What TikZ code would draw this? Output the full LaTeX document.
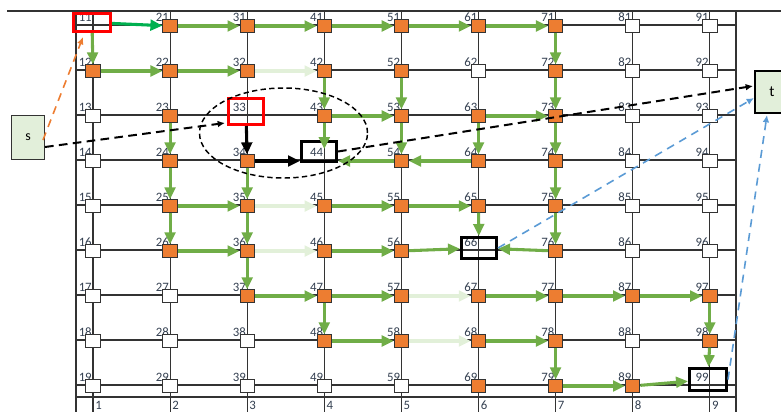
\documentclass[tikz,border=0pt]{standalone}
\usepackage{fontspec}
\setmainfont{Carlito}
\usetikzlibrary{arrows.meta,calc,shapes.geometric}
\definecolor{gorange}{HTML}{ED7D31}
\definecolor{ggreen}{HTML}{70AD47}
\definecolor{gbright}{HTML}{00B050}
\definecolor{gfaded}{HTML}{E2F0D9}
\definecolor{gblue}{HTML}{5B9BD5}
\definecolor{gfill}{HTML}{E2EFDA}
\definecolor{gline}{HTML}{333333}
\definecolor{glabel}{HTML}{333F50}
\begin{document}
\begin{tikzpicture}[x=0.75pt,y=-0.75pt,
  gridline/.style={draw=gline,line width=0.8pt},
  numlabel/.style={font=\fontsize{9.6}{11}\selectfont,text=glabel,inner sep=0pt},
  cell/.style={rectangle,draw=gline,line width=0.75pt,minimum width=10.8pt,minimum height=9.2pt,inner sep=0pt},
  orcell/.style={cell,fill=gorange},
  whcell/.style={cell,fill=white},
  redbox/.style={rectangle,draw=red,line width=2.25pt,inner sep=0pt},
  blkbox/.style={rectangle,draw=black,line width=2.25pt,inner sep=0pt},
  garrow/.style={draw=ggreen,line width=2.3pt,-{Triangle[length=9pt,width=8pt]}},
  barrow/.style={garrow,draw=gbright},
  farrow/.style={garrow,draw=gfaded},
  karrow/.style={draw=black,line width=2.3pt,-{Triangle[length=9pt,width=8pt]}},
  kdash/.style={draw=black,line width=1.5pt,dash pattern=on 6.5pt off 4pt,-{Latex[length=5.5pt,width=5pt]}},
  bdash/.style={draw=gblue,line width=1.2pt,dash pattern=on 6pt off 4.5pt,-{Latex[length=5.5pt,width=5pt]}},
  odash/.style={draw=gorange,line width=1.2pt,dash pattern=on 6pt off 4.5pt,-{Latex[length=5.5pt,width=5pt]}},
  endbox/.style={rectangle,fill=gfill,inner sep=0pt}
]
\useasboundingbox (0,0) rectangle (781,412);
% grid
\draw[gridline] (7,11) -- (781,11);
\draw[gridline] (76,11) -- (76,412);
\draw[gridline] (736,11) -- (736,412);
\draw[gridline] (76,397) -- (736,397);
\foreach \c in {1,...,9} {
  \draw[gridline] ({93+77.1*(\c-1)},11) -- ({93+77.1*(\c-1)},412);
  \draw[gridline] (76,{25+45*(\c-1)}) -- (736,{25+45*(\c-1)});
  \node[numlabel,anchor=west] (c\c) at ({93+77.1*(\c-1)+2},405) {\c};
}
\foreach \c in {1,...,9} {
  \foreach \r in {1,...,9} {
    \coordinate (g\c\r) at ({93+77.1*(\c-1)},{25+45*(\r-1)});
    \node[numlabel,anchor=south east] (l\c\r) at ($(g\c\r)+(-1,-3.5)$) {\c\r};
  }
}
% cells
\foreach \n in {21,31,41,51,61,71,12,22,32,42,52,72,23,43,53,63,73,24,34,54,64,74,25,35,45,55,65,75,26,36,46,56,76,37,47,57,67,77,87,97,48,58,68,78,98,69,79,89}
  \node[orcell] (n\n) at ($(g\n)+(0,1)$) {};
\foreach \n in {81,91,62,82,92,13,83,93,14,84,94,15,85,95,16,86,96,17,27,18,28,38,88,19,29,39,49,59}
  \node[whcell] (n\n) at ($(g\n)+(0,1)$) {};
\node[redbox,minimum width=27.75pt,minimum height=13.5pt] (n11) at (92,22.5) {};
\node[redbox,minimum width=26.25pt,minimum height=19.5pt] (n33) at (246,111.5) {};
\node[blkbox,minimum width=26.25pt,minimum height=15pt] (n44) at (319,151.5) {};
\node[blkbox,minimum width=26.25pt,minimum height=15.75pt] (n66) at (479,248) {};
\node[blkbox,minimum width=27.75pt,minimum height=16.5pt] (n99) at (708,379.5) {};
% s and t
\node[endbox,draw=gline,line width=0.75pt,minimum width=24.75pt,minimum height=33pt,font=\fontsize{10.5}{12}\selectfont] (s) at (28,137.5) {s};
\node[endbox,draw=black,line width=1.5pt,minimum width=25.5pt,minimum height=31.5pt,font=\fontsize{11.5}{13}\selectfont] (t) at (772,92) {t};
% green arrows
\draw[barrow] (n11) -- (n21);
\foreach \a/\b in {21/31,31/41,41/51,51/61,61/71,11/12,12/22,22/32,71/72,72/73,73/74,74/75,75/76,
  42/43,52/53,43/53,63/73,23/24,24/25,25/26,53/54,63/64,64/54,34/35,35/36,36/37,
  25/35,45/55,55/65,65/66,26/36,46/56,56/66,76/66,37/47,47/57,67/77,77/87,87/97,
  47/48,48/58,68/78,97/98,98/99,78/79,79/89,89/99}
  \draw[garrow] (n\a) -- (n\b);
\draw[garrow] (n54) -- (n54 -| n44.east);
\draw[garrow] (n43) -- ($(n43 |- n44.north)+(0,9)$);
\foreach \a/\b in {32/42,35/45,36/46,57/67,58/68}
  \draw[farrow] (n\a) -- (n\b);
% black arrows
\draw[karrow] (n33) -- (n34);
\draw[karrow] (n34) -- (n34 -| n44.west);
% ellipse
\node[ellipse,draw=black,line width=1.1pt,dash pattern=on 4pt off 2.5pt,minimum width=126pt,minimum height=67.5pt,inner sep=0pt] (ell) at (283.5,133) {};
% dashed connectors
\draw[kdash] ($(s.east)+(0,9.5)$) -- ($(n33.south west)+(-2,-3)$);
\draw[kdash] (n44.east) -- ($(t.west)+(-1,-6)$);
\draw[bdash] (n66.east) -- ($(t.west)+(0,6)$);
\draw[bdash] (n99.east) -- ($(t.south)+(-5,1)$);
\draw[odash] ($(s.east)+(-2,2.5)$) -- ($(n11.south west)+(11,4)$);
\end{tikzpicture}
\end{document}
